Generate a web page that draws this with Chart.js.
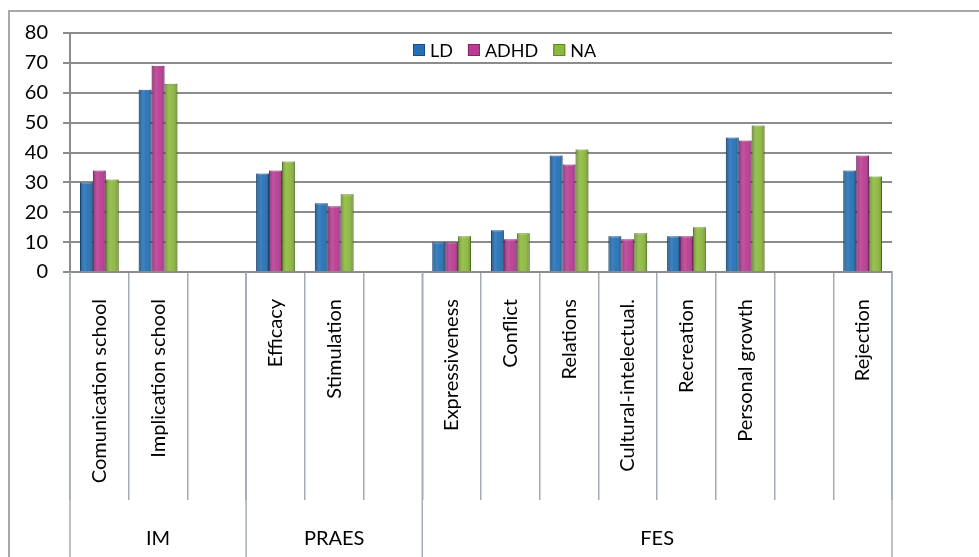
<!DOCTYPE html>
<html>
<head>
<meta charset="utf-8">
<script src="https://cdn.jsdelivr.net/npm/chart.js@4.4.1/dist/chart.umd.min.js"></script>
<style>
  html, body { margin: 0; padding: 0; background: #fff; }
  canvas { display: block; }
</style>
</head>
<body>
<canvas id="chart" width="979" height="557"></canvas>
<script>
// categories (empty strings are the blank slots between groups)
const categories = ['Comunication school', 'Implication school', '', 'Efficacy', 'Stimulation', '',
    'Expressiveness', 'Conflict', 'Relations', 'Cultural-intelectual.', 'Recreation', 'Personal growth', '', 'Rejection'];
const groupNames = ['IM', 'PRAES', 'FES'];
const groupSizes = [3, 3, 8];

const seriesNames = ['LD', 'ADHD', 'NA'];
const ldValues   = [30, 61, null, 33, 23, null, 10, 14, 39, 12, 12, 45, null, 34];
const adhdValues = [34, 69, null, 34, 22, null, 10, 11, 36, 11, 12, 44, null, 39];
const naValues   = [31, 63, null, 37, 26, null, 12, 13, 41, 13, 15, 49, null, 32];

const yMin = 0, yMax = 80, yStep = 10;

const fillColors = ['#2470b6', '#b93b93', '#8cb83d'];
const edgeColors = ['#174e85', '#86246a', '#5f8a22'];

Chart.defaults.font.family = 'Lato, "Open Sans", sans-serif';
Chart.defaults.color = '#000';

const extras = {
    id: 'extras',
    beforeDraw(chart) {
        const c = chart.ctx;
        c.save();
        c.strokeStyle = '#a8a8a8';
        c.lineWidth = 2;
        c.strokeRect(9, 11, 1000, 600);
        c.restore();
    },
    afterDatasetsDraw(chart) {
        // soft bevel shading on each bar
        const c = chart.ctx;
        c.save();
        chart.data.datasets.forEach((ds, i) => {
            chart.getDatasetMeta(i).data.forEach(bar => {
                if (bar.skip || bar.y == null || isNaN(bar.y)) return;
                const w = bar.width, left = bar.x - w / 2;
                const g = c.createLinearGradient(left, 0, left + w, 0);
                g.addColorStop(0, 'rgba(0,0,0,0.22)');
                g.addColorStop(0.35, 'rgba(255,255,255,0.12)');
                g.addColorStop(0.6, 'rgba(255,255,255,0.05)');
                g.addColorStop(1, 'rgba(0,0,0,0.25)');
                c.fillStyle = g;
                c.fillRect(left, bar.y, w, bar.base - bar.y);
            });
        });
        c.restore();
    },
    afterDraw(chart) {
        const c = chart.ctx;
        const x = chart.scales.x;
        const area = chart.chartArea;
        const slot = x.getPixelForValue(1) - x.getPixelForValue(0);

        c.save();
        // group separators + names
        c.strokeStyle = '#a3acb5';
        c.lineWidth = 1.5;
        c.font = '20px Lato';
        c.fillStyle = '#000';
        c.textAlign = 'center';
        c.textBaseline = 'middle';
        let start = 0;
        const edges = [x.getPixelForValue(0) - slot / 2];
        groupSizes.forEach((n, i) => {
            const left = x.getPixelForValue(start) - slot / 2;
            const right = x.getPixelForValue(start + n - 1) + slot / 2;
            edges.push(right);
            c.fillText(groupNames[i], (left + right) / 2, 539);
            start += n;
        });
        edges.forEach(px => {
            c.beginPath();
            c.moveTo(px, area.bottom);
            c.lineTo(px, chart.height);
            c.stroke();
        });

        // legend inside the plot
        let lx = 413;
        const ly = 50;
        c.textAlign = 'left';
        c.font = '18px Lato';
        chart.data.datasets.forEach((ds, i) => {
            c.fillStyle = ds.backgroundColor;
            c.fillRect(lx, ly - 6, 12, 12);
            c.strokeStyle = ds.borderColor;
            c.lineWidth = 1;
            c.strokeRect(lx + 0.5, ly - 5.5, 11, 11);
            c.fillStyle = '#000';
            c.fillText(ds.label, lx + 17, ly + 1);
            lx += 17 + c.measureText(ds.label).width + 15;
        });
        c.restore();
    }
};

new Chart(document.getElementById('chart').getContext('2d'), {
    type: 'bar',
    data: {
        labels: categories,
        datasets: [ldValues, adhdValues, naValues].map((vals, i) => ({
            label: seriesNames[i],
            data: vals,
            backgroundColor: fillColors[i],
            borderColor: edgeColors[i],
            borderWidth: 1,
            barPercentage: 1,
            categoryPercentage: 0.66
        }))
    },
    options: {
        responsive: false,
        animation: false,
        layout: { padding: { top: 33, right: 87, left: 0, bottom: 0 } },
        plugins: {
            legend: { display: false },
            tooltip: { enabled: false }
        },
        scales: {
            x: {
                grid: {
                    drawOnChartArea: false,
                    drawTicks: true,
                    tickLength: 228,
                    color: '#a3acb5',
                    lineWidth: 1.5,
                    offset: true
                },
                border: { color: '#8c8c8c', width: 2 },
                ticks: {
                    autoSkip: false,
                    maxRotation: 90,
                    minRotation: 90,
                    padding: -201,
                    font: { size: 20 },
                    color: '#000'
                },
                afterFit(scale) { scale.height = 285; }
            },
            y: {
                min: yMin,
                max: yMax,
                ticks: {
                    stepSize: yStep,
                    padding: 15,
                    font: { size: 20 },
                    color: '#000'
                },
                grid: { color: '#8c8c8c', lineWidth: 2, tickLength: 7 },
                border: { color: '#8c8c8c', width: 2 },
                afterFit(scale) { scale.width = 70; }
            }
        }
    },
    plugins: [extras]
});
</script>
</body>
</html>
